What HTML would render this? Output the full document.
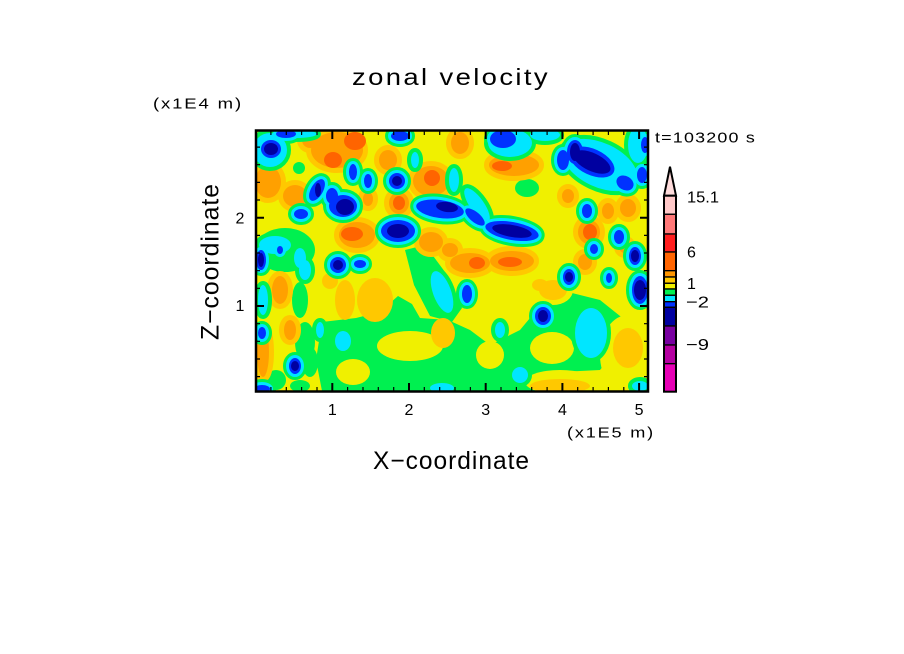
<!DOCTYPE html>
<html><head><meta charset="utf-8">
<style>
html,body{margin:0;padding:0;background:#fff;}
svg{display:block;}
text{font-family:"Liberation Sans",sans-serif;fill:#000;}
</style></head><body>
<svg width="904" height="654" viewBox="0 0 904 654" xmlns="http://www.w3.org/2000/svg" xmlns:xlink="http://www.w3.org/1999/xlink">
<defs>
<clipPath id="cp"><rect x="256" y="131" width="392" height="260"/></clipPath>
<g id="negs">
<ellipse cx="271" cy="149" rx="10" ry="9"/>
<ellipse cx="286" cy="134" rx="10" ry="4"/>
<ellipse cx="317" cy="190" rx="6" ry="12" transform="rotate(30 317 190)"/>
<ellipse cx="332" cy="196" rx="6" ry="8"/>
<ellipse cx="343" cy="206" rx="14" ry="11"/>
<ellipse cx="353" cy="172" rx="4" ry="8"/>
<ellipse cx="368" cy="181" rx="4" ry="7"/>
<ellipse cx="397" cy="181" rx="8" ry="8"/>
<ellipse cx="301" cy="214" rx="7" ry="5"/>
<ellipse cx="398" cy="231" rx="17" ry="11"/>
<ellipse cx="440" cy="209" rx="24" ry="9" transform="rotate(8 440 209)"/>
<ellipse cx="475" cy="217" rx="12" ry="5" transform="rotate(40 475 217)"/>
<ellipse cx="512" cy="231" rx="27" ry="9" transform="rotate(10 512 231)"/>
<ellipse cx="503" cy="139" rx="13" ry="9"/>
<ellipse cx="400" cy="136" rx="9" ry="5"/>
<ellipse cx="592" cy="162" rx="24" ry="13" transform="rotate(25 592 162)"/>
<ellipse cx="575" cy="152" rx="8" ry="12"/>
<ellipse cx="563" cy="160" rx="6" ry="10"/>
<ellipse cx="625" cy="183" rx="9" ry="7" transform="rotate(30 625 183)"/>
<ellipse cx="642" cy="175" rx="5" ry="8"/>
<ellipse cx="645" cy="145" rx="4" ry="8"/>
<ellipse cx="587" cy="211" rx="5" ry="7"/>
<ellipse cx="619" cy="237" rx="5" ry="7"/>
<ellipse cx="635" cy="256" rx="6" ry="9"/>
<ellipse cx="640" cy="290" rx="8" ry="14"/>
<ellipse cx="569" cy="277" rx="6" ry="8"/>
<ellipse cx="609" cy="278" rx="3" ry="5"/>
<ellipse cx="594" cy="249" rx="4" ry="5"/>
<ellipse cx="467" cy="294" rx="5" ry="9"/>
<ellipse cx="543" cy="316" rx="8" ry="9"/>
<ellipse cx="261" cy="260" rx="5" ry="10"/>
<ellipse cx="338" cy="265" rx="8" ry="8"/>
<ellipse cx="360" cy="264" rx="6" ry="4"/>
<ellipse cx="295" cy="366" rx="6" ry="8"/>
<ellipse cx="262" cy="333" rx="4" ry="6"/>
<ellipse cx="262" cy="389" rx="8" ry="4"/>
<ellipse cx="280" cy="250" rx="3" ry="4"/>
</g>
<g id="cyo">
<ellipse cx="600" cy="165" rx="40" ry="22" transform="rotate(25 600 165)"/>
<ellipse cx="270" cy="150" rx="17" ry="17"/>
<ellipse cx="477" cy="205" rx="7" ry="20" transform="rotate(-35 477 205)"/>
<ellipse cx="510" cy="143" rx="22" ry="14"/>
<ellipse cx="545" cy="135" rx="15" ry="6"/>
<ellipse cx="638" cy="145" rx="10" ry="18"/>
<ellipse cx="295" cy="134" rx="22" ry="4"/>
<ellipse cx="263" cy="300" rx="5" ry="15"/>
<ellipse cx="305" cy="270" rx="6" ry="10"/>
<ellipse cx="343" cy="341" rx="8" ry="10"/>
<ellipse cx="442" cy="292" rx="9" ry="22" transform="rotate(-20 442 292)"/>
<ellipse cx="591" cy="333" rx="16" ry="25"/>
<ellipse cx="640" cy="386" rx="8" ry="5"/>
<ellipse cx="442" cy="388" rx="12" ry="5"/>
<ellipse cx="454" cy="180" rx="5" ry="12"/>
<ellipse cx="415" cy="160" rx="4" ry="8"/>
<ellipse cx="275" cy="245" rx="16" ry="9"/>
<ellipse cx="300" cy="258" rx="6" ry="10"/>
<ellipse cx="520" cy="375" rx="8" ry="8"/>
<ellipse cx="500" cy="330" rx="5" ry="8"/>
<ellipse cx="320" cy="330" rx="4" ry="8"/>
</g>
<g id="poss">
<ellipse cx="268" cy="182" rx="13" ry="16"/>
<ellipse cx="295" cy="196" rx="12" ry="11"/>
<ellipse cx="337" cy="150" rx="26" ry="18"/>
<ellipse cx="310" cy="140" rx="8" ry="8"/>
<ellipse cx="388" cy="160" rx="9" ry="10"/>
<ellipse cx="399" cy="203" rx="10" ry="11"/>
<ellipse cx="431" cy="181" rx="18" ry="15"/>
<ellipse cx="368" cy="199" rx="5" ry="7"/>
<ellipse cx="357" cy="235" rx="18" ry="13"/>
<ellipse cx="431" cy="242" rx="12" ry="10"/>
<ellipse cx="460" cy="143" rx="9" ry="11"/>
<ellipse cx="514" cy="165" rx="25" ry="11"/>
<ellipse cx="470" cy="263" rx="20" ry="10"/>
<ellipse cx="512" cy="261" rx="22" ry="10"/>
<ellipse cx="450" cy="250" rx="8" ry="7"/>
<ellipse cx="568" cy="196" rx="6" ry="7"/>
<ellipse cx="589" cy="232" rx="11" ry="12"/>
<ellipse cx="608" cy="211" rx="6" ry="8"/>
<ellipse cx="628" cy="208" rx="8" ry="9"/>
<ellipse cx="585" cy="262" rx="7" ry="8"/>
<ellipse cx="625" cy="247" rx="6" ry="6"/>
<ellipse cx="263" cy="352" rx="6" ry="25"/>
<ellipse cx="280" cy="290" rx="8" ry="14"/>
<ellipse cx="290" cy="330" rx="6" ry="10"/>
</g>
</defs>

<g clip-path="url(#cp)">
<rect x="256" y="131" width="392" height="260" fill="#f0f000"/>
<g fill="#00f050">
<polygon points="322,322 356,318 380,312 398,296 412,304 420,318 448,320 470,330 490,345 520,330 545,300 560,290 600,300 625,320 620,345 600,370 560,372 540,391 322,391 316,360"/>
<polygon points="405,250 425,245 445,272 462,308 452,322 430,316 414,285"/>
<ellipse cx="285" cy="250" rx="30" ry="22"/>
<ellipse cx="300" cy="300" rx="8" ry="18"/>
<ellipse cx="305" cy="342" rx="10" ry="20"/>
<ellipse cx="310" cy="362" rx="8" ry="15"/>
<ellipse cx="300" cy="386" rx="10" ry="6"/>
<ellipse cx="276" cy="380" rx="10" ry="10"/>
<ellipse cx="299" cy="168" rx="6" ry="6"/>
<ellipse cx="527" cy="188" rx="12" ry="9"/>
<ellipse cx="265" cy="136" rx="9" ry="6"/>
</g>
<g fill="#f0f000">
<ellipse cx="410" cy="346" rx="33" ry="15"/>
<ellipse cx="353" cy="372" rx="17" ry="13"/>
<ellipse cx="552" cy="348" rx="22" ry="16"/>
<ellipse cx="628" cy="355" rx="28" ry="40"/>
<ellipse cx="490" cy="355" rx="14" ry="14"/>
<ellipse cx="560" cy="382" rx="35" ry="12"/>
<ellipse cx="553" cy="290" rx="20" ry="15"/>
<ellipse cx="480" cy="318" rx="10" ry="12"/>
</g>
<g fill="#ffc800">
<ellipse cx="345" cy="300" rx="10" ry="20"/>
<ellipse cx="375" cy="300" rx="18" ry="22"/>
<ellipse cx="330" cy="281" rx="8" ry="8"/>
<ellipse cx="443" cy="333" rx="12" ry="15"/>
<ellipse cx="560" cy="386" rx="30" ry="7"/>
<ellipse cx="553" cy="290" rx="14" ry="10"/>
<ellipse cx="628" cy="348" rx="15" ry="20"/>
<ellipse cx="540" cy="285" rx="8" ry="6"/>
</g>
<use xlink:href="#poss" href="#poss" fill="#ffc800" stroke="#ffc800" stroke-width="10"/>
<use xlink:href="#poss" href="#poss" fill="#ffa000"/>
<g fill="#ff6400">
<ellipse cx="333" cy="160" rx="9" ry="8"/>
<ellipse cx="355" cy="141" rx="11" ry="9"/>
<ellipse cx="399" cy="203" rx="6" ry="7"/>
<ellipse cx="432" cy="178" rx="8" ry="8"/>
<ellipse cx="352" cy="234" rx="11" ry="7"/>
<ellipse cx="502" cy="166" rx="10" ry="5"/>
<ellipse cx="477" cy="263" rx="8" ry="6"/>
<ellipse cx="510" cy="262" rx="12" ry="5"/>
<ellipse cx="590" cy="232" rx="7" ry="8"/>
</g>
<use xlink:href="#negs" href="#negs" fill="#00f050" stroke="#00f050" stroke-width="12"/>
<use xlink:href="#cyo" href="#cyo" fill="#00f050" stroke="#00f050" stroke-width="8"/>
<use xlink:href="#cyo" href="#cyo" fill="#00e6ff"/>
<use xlink:href="#negs" href="#negs" fill="#00e6ff" stroke="#00e6ff" stroke-width="6"/>
<use xlink:href="#negs" href="#negs" fill="#0032ff"/>
<g fill="#0000a0">
<ellipse cx="271" cy="149" rx="7" ry="6"/>
<ellipse cx="318" cy="190" rx="3" ry="7"/>
<ellipse cx="345" cy="207" rx="9" ry="8"/>
<ellipse cx="397" cy="181" rx="5" ry="5"/>
<ellipse cx="398" cy="231" rx="11" ry="7"/>
<ellipse cx="447" cy="207" rx="11" ry="5" transform="rotate(8 447 207)"/>
<ellipse cx="512" cy="231" rx="20" ry="6" transform="rotate(10 512 231)"/>
<ellipse cx="592" cy="162" rx="20" ry="9" transform="rotate(25 592 162)"/>
<ellipse cx="575" cy="152" rx="5" ry="9"/>
<ellipse cx="635" cy="256" rx="4" ry="6"/>
<ellipse cx="640" cy="290" rx="6" ry="10"/>
<ellipse cx="569" cy="277" rx="4" ry="5"/>
<ellipse cx="543" cy="316" rx="5" ry="6"/>
<ellipse cx="261" cy="260" rx="3" ry="7"/>
<ellipse cx="338" cy="265" rx="5" ry="5"/>
<ellipse cx="295" cy="366" rx="4" ry="5"/>
</g>
</g>

<!-- frame -->
<rect x="256" y="130.5" width="392" height="261" fill="none" stroke="#000" stroke-width="2.5"/>
<path d="M332.3 391v-8M409 391v-8M485.7 391v-8M562.4 391v-8M639.1 391v-8
M332.3 131v8M409 131v8M485.7 131v8M562.4 131v8M639.1 131v8
M256 217.7h8M256 306h8M648 217.7h-8M648 306h-8" stroke="#000" stroke-width="2" fill="none"/>
<path d="M270.9 391v-4M286.3 391v-4M301.6 391v-4M317 391v-4M347.6 391v-4M363 391v-4M378.3 391v-4M393.7 391v-4M424.3 391v-4M439.7 391v-4M455 391v-4M470.4 391v-4M501 391v-4M516.4 391v-4M531.7 391v-4M547.1 391v-4M577.7 391v-4M593.1 391v-4M608.4 391v-4M623.8 391v-4
M270.9 131v4M286.3 131v4M301.6 131v4M317 131v4M347.6 131v4M363 131v4M378.3 131v4M393.7 131v4M424.3 131v4M439.7 131v4M455 131v4M470.4 131v4M501 131v4M516.4 131v4M531.7 131v4M547.1 131v4M577.7 131v4M593.1 131v4M608.4 131v4M623.8 131v4
M256 376.6h4M256 359h4M256 341.3h4M256 323.7h4M256 288.3h4M256 270.7h4M256 253h4M256 235.4h4M256 200h4M256 182.4h4M256 164.7h4M256 147.1h4
M648 376.6h-4M648 359h-4M648 341.3h-4M648 323.7h-4M648 288.3h-4M648 270.7h-4M648 253h-4M648 235.4h-4M648 200h-4M648 182.4h-4M648 164.7h-4M648 147.1h-4" stroke="#000" stroke-width="1.2" fill="none"/>

<!-- colorbar -->
<polygon points="664,195.7 676,195.7 670,166.7" fill="#ffdcdc" stroke="#000" stroke-width="2"/>
<g stroke="#000" stroke-width="1.3">
<rect x="664" y="195.7" width="12" height="18.6" fill="#ffc8c8"/>
<rect x="664" y="214.3" width="12" height="19.7" fill="#ff7878"/>
<rect x="664" y="234" width="12" height="18" fill="#ff1e1e"/>
<rect x="664" y="252" width="12" height="18.7" fill="#ff6400"/>
<rect x="664" y="270.7" width="12" height="6.3" fill="#ff9600"/>
<rect x="664" y="277" width="12" height="6.3" fill="#ffc800"/>
<rect x="664" y="283.3" width="12" height="5.7" fill="#f0f000"/>
<rect x="664" y="289" width="12" height="6.3" fill="#00f050"/>
<rect x="664" y="295.3" width="12" height="6.4" fill="#00e6ff"/>
<rect x="664" y="301.7" width="12" height="5.6" fill="#0032ff"/>
<rect x="664" y="307.3" width="12" height="18.7" fill="#0000a0"/>
<rect x="664" y="326" width="12" height="19" fill="#7800a0"/>
<rect x="664" y="345" width="12" height="18.7" fill="#b400a0"/>
<rect x="664" y="363.7" width="12" height="28" fill="#e600b4"/>
</g>
<rect x="664" y="195.7" width="12" height="196" fill="none" stroke="#000" stroke-width="2"/>

<!-- texts -->
<text x="352" y="85" font-size="23" letter-spacing="2" textLength="198" lengthAdjust="spacingAndGlyphs">zonal velocity</text>
<text x="153" y="108.5" font-size="15" letter-spacing="1.5" textLength="90" lengthAdjust="spacingAndGlyphs">(x1E4 m)</text>
<text x="655" y="142.5" font-size="15" letter-spacing="1" textLength="101" lengthAdjust="spacingAndGlyphs">t=103200 s</text>
<text x="687" y="202.3" font-size="16" textLength="32" lengthAdjust="spacingAndGlyphs">15.1</text>
<text x="687" y="257.7" font-size="16">6</text>
<text x="687" y="289" font-size="16">1</text>
<text x="686" y="307.3" font-size="16" textLength="23" lengthAdjust="spacingAndGlyphs">−2</text>
<text x="686" y="350" font-size="16" textLength="23" lengthAdjust="spacingAndGlyphs">−9</text>
<g font-size="16" text-anchor="middle">
<text x="332.3" y="415">1</text>
<text x="409" y="415">2</text>
<text x="485.7" y="415">3</text>
<text x="562.4" y="415">4</text>
<text x="639.1" y="415">5</text>
<text x="240" y="223.3">2</text>
<text x="240" y="311">1</text>
</g>
<text x="567" y="437.5" font-size="15" letter-spacing="1.5" textLength="88" lengthAdjust="spacingAndGlyphs">(x1E5 m)</text>
<text x="373" y="469" font-size="25" letter-spacing="1" textLength="157" lengthAdjust="spacingAndGlyphs">X−coordinate</text>
<text transform="translate(218.3,340) rotate(-90)" font-size="25" letter-spacing="1" textLength="157" lengthAdjust="spacingAndGlyphs">Z−coordinate</text>
</svg>
</body></html>
